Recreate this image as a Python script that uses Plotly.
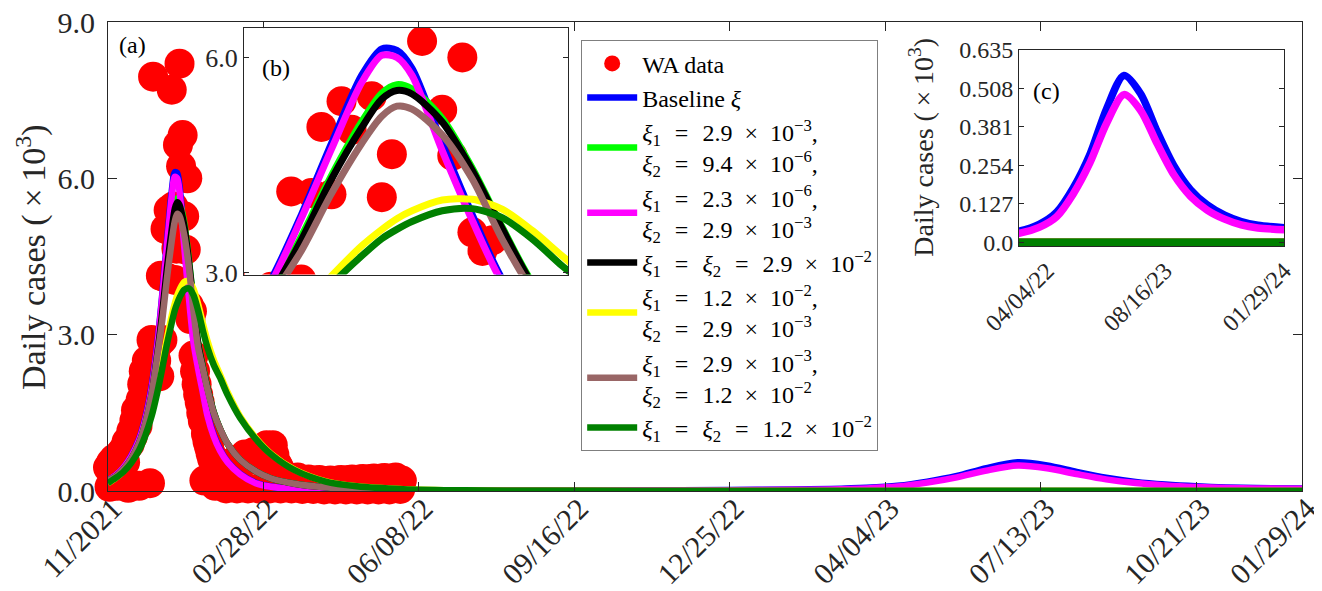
import plotly.graph_objects as go

FONT = "Liberation Serif, Times New Roman, serif"
AXC = "#262626"

# ---------------- data ----------------
main_tick_days = [0, 100, 200, 300, 400, 500, 600, 700, 768]
main_tick_labels = ["11/2021", "02/28/22", "06/08/22", "09/16/22", "12/25/22",
                    "04/04/23", "07/13/23", "10/21/23", "01/29/24"]
inset_c_tick_days = [497, 632, 768]
inset_c_tick_labels = ["04/04/22", "08/16/23", "01/29/24"]
main_y_ticks = [0, 3, 6, 9]
main_y_labels = ["0.0", "3.0", "6.0", "9.0"]
inset_b_y_ticks = [3, 6]
inset_b_y_labels = ["3.0", "6.0"]
inset_c_y_ticks = [0, 0.127, 0.254, 0.381, 0.508, 0.635]
inset_c_y_labels = ["0.0", "0.127", "0.254", "0.381", "0.508", "0.635"]

# WA daily cases (x10^3), one value per day from 11/2021
wa_cases = [
    0.45, 0.08, 0.55, 0.40, 0.62, 0.35, 0.10, 0.50, 0.72, 0.60,
    0.80, 0.55, 0.95, 0.06, 0.90, 1.15, 1.05, 1.35, 1.55, 1.25,
    0.10, 1.75, 2.05, 2.30, 1.95, 2.50, 2.10, 0.15, 2.90, 7.95,
    2.60, 2.50, 2.80, 2.20, 4.13, 2.90, 4.11, 5.03, 4.09, 5.39,
    4.99, 7.70, 5.46, 4.05, 4.65, 6.64, 8.20, 6.23, 6.83, 5.27,
    4.63, 6.00, 3.56, 3.30, 3.45, 2.60, 2.30, 2.05, 1.85, 1.70,
    1.50, 1.35, 0.20, 1.10, 0.95, 0.85, 0.72, 0.62, 0.55, 0.10,
    0.50, 0.48, 0.45, 0.42, 0.45, 0.40, 0.05, 0.45, 0.48, 0.52,
    0.55, 0.55, 0.58, 0.05, 0.60, 0.55, 0.62, 0.65, 0.70, 0.60,
    0.05, 0.70, 0.65, 0.72, 0.75, 0.60, 0.65, 0.05, 0.70, 0.75,
    0.80, 0.85, 0.88, 0.75, 0.05, 0.85, 0.88, 0.70, 0.55, 0.50,
    0.45, 0.05, 0.22, 0.25, 0.20, 0.28, 0.24, 0.18, 0.05, 0.20,
    0.24, 0.22, 0.26, 0.20, 0.16, 0.04, 0.18, 0.20, 0.17, 0.22,
    0.19, 0.15, 0.04, 0.17, 0.20, 0.18, 0.21, 0.17, 0.13, 0.03,
    0.16, 0.19, 0.17, 0.20, 0.16, 0.12, 0.03, 0.15, 0.20, 0.18,
    0.21, 0.17, 0.13, 0.03, 0.16, 0.21, 0.19, 0.22, 0.18, 0.14,
    0.03, 0.17, 0.22, 0.20, 0.23, 0.19, 0.15, 0.03, 0.18, 0.23,
    0.21, 0.24, 0.20, 0.15, 0.03, 0.18, 0.24, 0.22, 0.25, 0.20,
    0.16, 0.03, 0.19, 0.24, 0.22, 0.26, 0.21, 0.16, 0.04, 0.20,
]
wa_days = list(range(len(wa_cases)))

model_days = [0, 5, 10, 15, 20, 24, 28, 32, 35, 38, 41, 43, 44.5, 46, 49,
              52, 55, 58, 61, 64, 68, 72, 77, 85, 95, 105, 120, 140, 160, 190,
              230, 280, 340, 400, 440, 465, 488, 508, 527, 546, 565, 585, 604,
              623, 642, 661, 680, 700, 719, 738, 768]

baseline = [0.20, 0.30, 0.45, 0.68, 1.00, 1.40, 2.00, 2.90, 3.80, 4.80, 5.75, 6.12, 6.10, 5.85, 4.80,
            3.80, 2.90, 2.38, 1.92, 1.47, 1.07, 0.80, 0.56, 0.33, 0.16, 0.085, 0.040, 0.020, 0.013, 0.010,
            0.010, 0.011, 0.014, 0.020, 0.030, 0.038, 0.060, 0.100, 0.180, 0.290, 0.440, 0.550, 0.490,
            0.365, 0.253, 0.174, 0.124, 0.090, 0.069, 0.057, 0.049]
xi_a = [0.20, 0.28, 0.42, 0.62, 0.92, 1.30, 1.85, 2.72, 3.50, 4.35, 5.10, 5.50, 5.62, 5.56, 5.15,
        4.45, 3.62, 2.85, 2.40, 1.98, 1.52, 1.20, 0.90, 0.60, 0.38, 0.24, 0.14, 0.07, 0.035, 0.015,
        0.006, 0.003, 0.002, 0.001, 0.001, 0.001, 0.001, 0.001, 0.001, 0.001, 0.001, 0.001, 0.001,
        0.001, 0.001, 0.001, 0.001, 0.001, 0.001, 0.001, 0.001]
xi_b = [0.20, 0.30, 0.45, 0.67, 0.98, 1.37, 1.95, 2.85, 3.75, 4.72, 5.65, 6.03, 6.00, 5.75, 4.70,
        3.72, 2.85, 2.34, 1.89, 1.44, 1.05, 0.78, 0.55, 0.32, 0.15, 0.080, 0.035, 0.015, 0.010, 0.008,
        0.008, 0.009, 0.010, 0.015, 0.024, 0.030, 0.050, 0.085, 0.160, 0.262, 0.392, 0.487, 0.435,
        0.325, 0.223, 0.152, 0.107, 0.077, 0.058, 0.048, 0.042]
xi_c = [0.20, 0.28, 0.42, 0.62, 0.92, 1.30, 1.85, 2.70, 3.45, 4.30, 5.02, 5.42, 5.54, 5.49, 5.10,
        4.42, 3.60, 2.83, 2.38, 1.97, 1.51, 1.20, 0.90, 0.60, 0.38, 0.24, 0.14, 0.07, 0.035, 0.015,
        0.006, 0.003, 0.002, 0.001, 0.001, 0.001, 0.001, 0.001, 0.001, 0.001, 0.001, 0.001, 0.001,
        0.001, 0.001, 0.001, 0.001, 0.001, 0.001, 0.001, 0.001]
xi_d = [0.15, 0.25, 0.38, 0.56, 0.82, 1.12, 1.52, 2.05, 2.50, 2.95, 3.37, 3.60, 3.75, 3.86, 4.01,
        4.02, 3.88, 3.58, 3.22, 2.88, 2.52, 2.24, 1.89, 1.43, 1.02, 0.71, 0.41, 0.185, 0.09, 0.035,
        0.012, 0.005, 0.002, 0.001, 0.001, 0.001, 0.001, 0.001, 0.001, 0.001, 0.001, 0.001, 0.001,
        0.001, 0.001, 0.001, 0.001, 0.001, 0.001, 0.001, 0.001]
xi_e = [0.20, 0.28, 0.42, 0.62, 0.92, 1.30, 1.85, 2.65, 3.30, 4.10, 4.80, 5.18, 5.32, 5.28, 4.92,
        4.30, 3.45, 2.75, 2.35, 1.95, 1.50, 1.20, 0.90, 0.60, 0.38, 0.24, 0.14, 0.07, 0.035, 0.015,
        0.007, 0.003, 0.002, 0.001, 0.001, 0.001, 0.001, 0.001, 0.001, 0.001, 0.001, 0.001, 0.001,
        0.001, 0.001, 0.001, 0.001, 0.001, 0.001, 0.001, 0.001]
xi_f = [0.15, 0.25, 0.37, 0.54, 0.78, 1.06, 1.43, 1.93, 2.37, 2.83, 3.23, 3.47, 3.60, 3.71, 3.86,
        3.89, 3.76, 3.46, 3.08, 2.75, 2.42, 2.18, 1.84, 1.40, 1.00, 0.70, 0.40, 0.18, 0.09, 0.035,
        0.012, 0.005, 0.002, 0.001, 0.001, 0.001, 0.001, 0.001, 0.001, 0.001, 0.001, 0.001, 0.001,
        0.001, 0.001, 0.001, 0.001, 0.001, 0.001, 0.001, 0.001]

SP = "\u2002\u200a"
SPX = "\u2002"
XI1 = "<i>ξ</i><sub>1</sub>"
XI2 = "<i>ξ</i><sub>2</sub>"
def eq(a, b):
    return f"{a}{SP}={SP}{b}"
def sci(m, e):
    return f"{m}{SPX}×{SPX}10<sup>−{e}</sup>"

series = [
    ("Baseline <i>ξ</i>", baseline, "#0000FF"),
    (eq(XI1, sci("2.9", 3)) + ",<br>" + eq(XI2, sci("9.4", 6)) + ",", xi_a, "#00FF00"),
    (eq(XI1, sci("2.3", 6)) + ",<br>" + eq(XI2, sci("2.9", 3)), xi_b, "#FF00FF"),
    (eq(eq(XI1, XI2), sci("2.9", 2)), xi_c, "#000000"),
    (eq(XI1, sci("1.2", 2)) + ",<br>" + eq(XI2, sci("2.9", 3)), xi_d, "#FFFF00"),
    (eq(XI1, sci("2.9", 3)) + ",<br>" + eq(XI2, sci("1.2", 2)), xi_e, "#996666"),
    (eq(eq(XI1, XI2), sci("1.2", 2)), xi_f, "#008000"),
]

fig = go.Figure()

# main axes
fig.add_trace(go.Scatter(x=wa_days, y=wa_cases, mode="markers", name="WA data",
                         marker=dict(size=30, color="#FF0000", line=dict(width=0)),
                         cliponaxis=False, xaxis="x", yaxis="y"))
for name, vals, col in series:
    fig.add_trace(go.Scatter(x=model_days, y=vals, mode="lines", name=name,
                             line=dict(color=col, width=6.5, shape="spline", smoothing=0.8),
                             xaxis="x", yaxis="y"))

# inset (b)
fig.add_trace(go.Scatter(x=wa_days, y=wa_cases, mode="markers", showlegend=False,
                         marker=dict(size=30, color="#FF0000", line=dict(width=0)),
                         xaxis="x2", yaxis="y2"))
for name, vals, col in series:
    fig.add_trace(go.Scatter(x=model_days, y=vals, mode="lines", showlegend=False,
                             line=dict(color=col, width=7, shape="spline", smoothing=0.8),
                             xaxis="x2", yaxis="y2"))

# inset (c)
for name, vals, col in series:
    fig.add_trace(go.Scatter(x=model_days, y=vals, mode="lines", showlegend=False,
                             line=dict(color=col, width=7.5, shape="spline", smoothing=0.8),
                             xaxis="x3", yaxis="y3"))

ax_common = dict(showline=True, linecolor=AXC, linewidth=1, mirror="ticks",
                 ticks="inside", tickcolor=AXC, showgrid=False, zeroline=False,
                 automargin=False, ticklabeloverflow="allow",
                 tickfont=dict(family=FONT, color=AXC))

# the page body adds an 8 px offset, so the figure is 8 px smaller on each side
fig.update_layout(
    template="none",
    width=1314, height=583,
    margin=dict(l=100, r=20, t=14, b=100, autoexpand=False),
    paper_bgcolor="white", plot_bgcolor="white",
    font=dict(family=FONT, color=AXC),
    showlegend=True,
    xaxis=dict(ax_common, domain=[0, 1], range=[0, 768], tickvals=main_tick_days,
               ticktext=main_tick_labels, tickangle=-45, ticklen=9,
               ticklabelstandoff=-13, ticklabelshift=5,
               tickfont=dict(family=FONT, size=30, color=AXC), anchor="y"),
    yaxis=dict(ax_common, domain=[0, 1], range=[0, 9], tickvals=main_y_ticks,
               ticktext=main_y_labels, ticklen=9, ticklabelstandoff=6,
               tickfont=dict(family=FONT, size=30, color=AXC), anchor="x"),
    xaxis2=dict(ax_common, domain=[0.1138, 0.3853], range=[29.3, 61.5], anchor="y2",
                showticklabels=False, ticks=""),
    yaxis2=dict(ax_common, domain=[0.4615, 0.987], range=[2.97, 6.41], anchor="x2",
                tickvals=inset_b_y_ticks, ticktext=inset_b_y_labels, ticklen=5,
                tickfont=dict(family=FONT, size=26, color=AXC)),
    xaxis3=dict(ax_common, domain=[0.763, 0.985], range=[465, 768], anchor="y3",
                tickvals=inset_c_tick_days, ticktext=inset_c_tick_labels, tickangle=-45,
                ticks="", tickfont=dict(family=FONT, size=24, color=AXC)),
    yaxis3=dict(ax_common, domain=[0.522, 0.941], range=[-0.012, 0.635], anchor="x3",
                tickvals=inset_c_y_ticks, ticktext=inset_c_y_labels, ticklen=5,
                tickfont=dict(family=FONT, size=24, color=AXC)),
    legend=dict(x=0.3963, y=0.961, xanchor="left", yanchor="top",
                bgcolor="white", bordercolor="#7f7f7f", borderwidth=1,
                font=dict(family=FONT, size=24, color="#000000"),
                itemwidth=50, tracegroupgap=0),
)

def label(text, x, y, size, color=AXC, angle=0):
    return dict(text=text, x=x, y=y, xref="paper", yref="paper", xanchor="center",
                yanchor="middle", textangle=angle, showarrow=False,
                font=dict(family=FONT, size=size, color=color))

fig.update_layout(annotations=[
    label("Daily cases (\u2009×\u200910<sup>3</sup>)", -0.064, 0.498, 34, angle=-90),
    label("Daily cases (\u2009×\u200910<sup>3</sup>)", 0.6813, 0.733, 28, angle=-90),
    label("(a)", 0.0202, 0.950, 24, "#000000"),
    label("(b)", 0.1408, 0.902, 24, "#000000"),
    label("(c)", 0.786, 0.852, 24, "#000000"),
])

fig.write_html("out.html")
